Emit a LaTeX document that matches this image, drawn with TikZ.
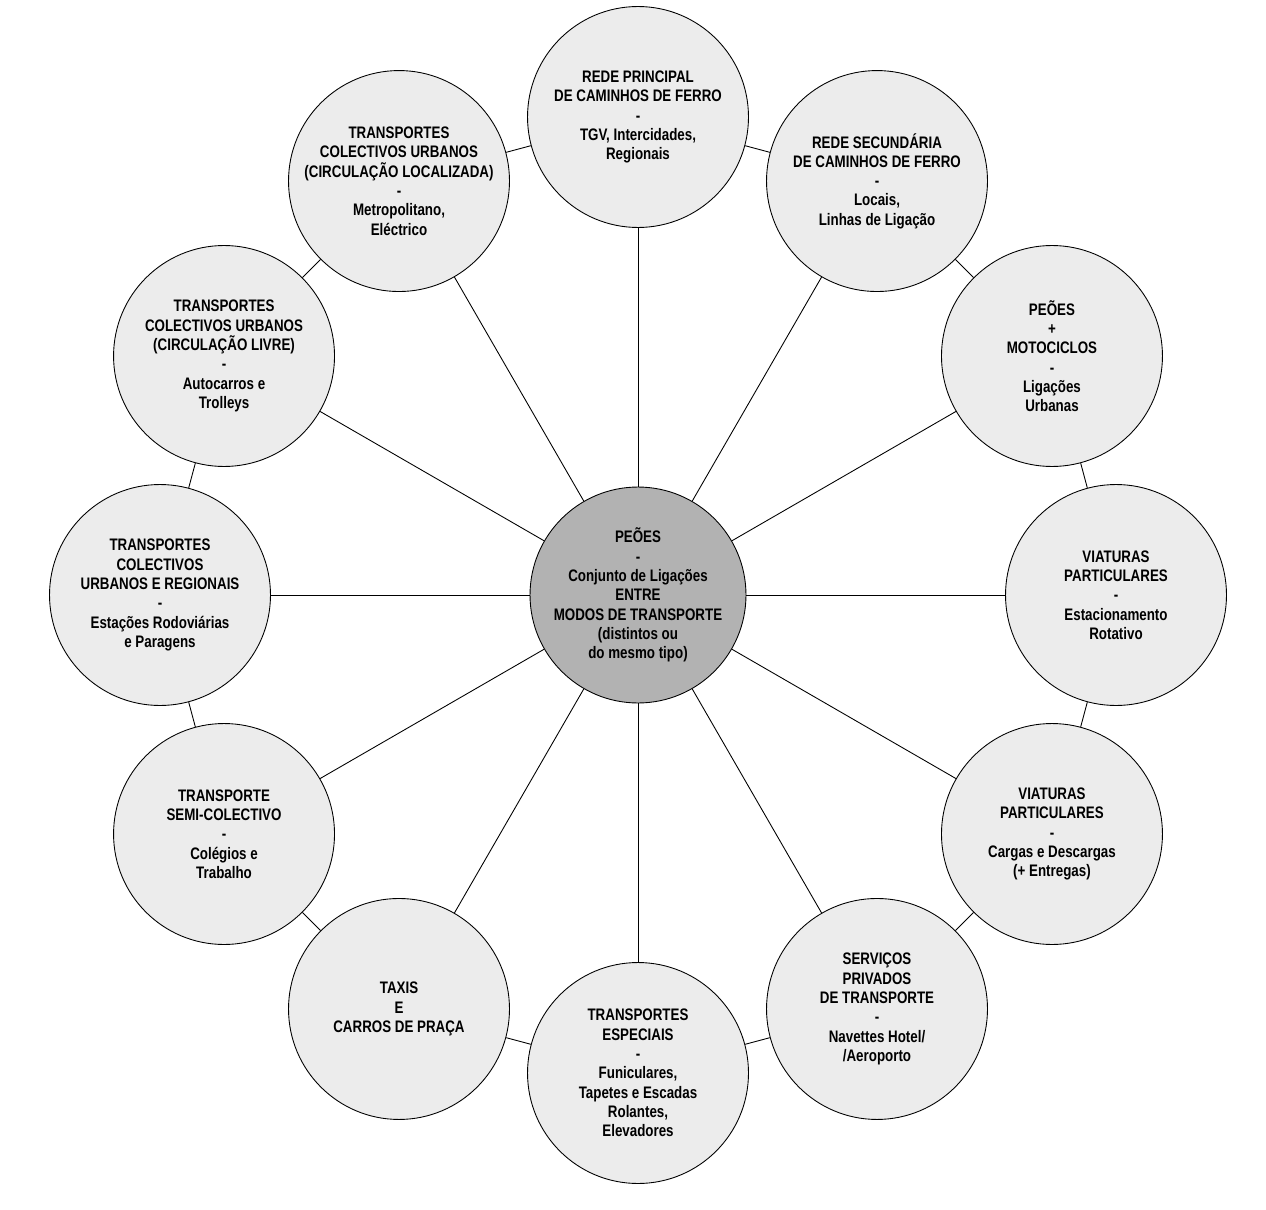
\documentclass[tikz,border=0pt]{standalone}
\usepackage{fontspec}
\setmainfont{Liberation Sans}[FakeStretch=0.8]
\usepackage{tikz}

\definecolor{ringgray}{HTML}{ECECEC}
\definecolor{hubgray}{HTML}{B2B2B2}

\tikzset{
	modo/.style={circle, draw, line width=0.5pt, fill=ringgray, minimum size=4.42cm,
		inner sep=0pt, align=center, font=\bfseries\fontsize{9.5}{11}\selectfont},
	nucleo/.style={modo, fill=hubgray, minimum size=4.32cm},
	ligacao/.style={line width=0.5pt}
}

\begin{document}
\begin{tikzpicture}[x=0.02cm, y=0.02cm]
			\useasboundingbox (0,0) rectangle (1266,-1209);

			\node[nucleo] (hub) at (638,-595) {PEÕES\\-\\Conjunto de Ligações\\ENTRE\\MODOS DE TRANSPORTE\\(distintos ou\\do mesmo tipo)};

			\foreach \i/\a/\txt in {
				1/90/{REDE PRINCIPAL\\DE CAMINHOS DE FERRO\\-\\TGV, Intercidades,\\Regionais},
				2/60/{REDE SECUNDÁRIA\\DE CAMINHOS DE FERRO\\-\\Locais,\\Linhas de Ligação},
				3/30/{PEÕES\\+\\MOTOCICLOS\\-\\Ligações\\Urbanas},
				4/0/{VIATURAS\\PARTICULARES\\-\\Estacionamento\\Rotativo},
				5/-30/{VIATURAS\\PARTICULARES\\-\\Cargas e Descargas\\(+ Entregas)},
				6/-60/{SERVIÇOS\\PRIVADOS\\DE TRANSPORTE\\-\\Navettes Hotel/\\/Aeroporto},
				7/-90/{TRANSPORTES\\ESPECIAIS\\-\\Funiculares,\\Tapetes e Escadas\\Rolantes,\\Elevadores},
				8/-120/{TAXIS\\E\\CARROS DE PRAÇA},
				9/-150/{TRANSPORTE\\SEMI-COLECTIVO\\-\\Colégios e\\Trabalho},
				10/180/{TRANSPORTES\\COLECTIVOS\\URBANOS E REGIONAIS\\-\\Estações Rodoviárias\\e Paragens},
				11/150/{TRANSPORTES\\COLECTIVOS URBANOS\\(CIRCULAÇÃO LIVRE)\\-\\Autocarros e\\Trolleys},
				12/120/{TRANSPORTES\\COLECTIVOS URBANOS\\(CIRCULAÇÃO LOCALIZADA)\\-\\Metropolitano,\\Eléctrico}} {

			\node[modo] (m\i) at ([shift={(\a:478)}]hub) {\txt};

			\draw[ligacao] (hub) -- (m\i); % raio
			}

			% anel exterior
			\foreach \i in {1,...,12} {
			\pgfmathtruncatemacro\j{mod(\i,12)+1}
			\draw[ligacao] (m\i) -- (m\j); }
		\end{tikzpicture}
\end{document}
